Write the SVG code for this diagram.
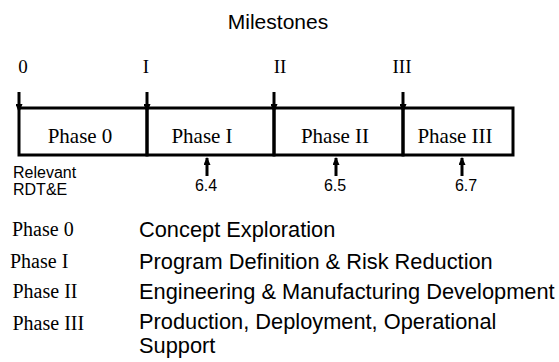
<svg xmlns="http://www.w3.org/2000/svg" width="559" height="362" viewBox="0 0 559 362">
<style>
.sans{font-family:"Liberation Sans",Arial,sans-serif;fill:#000}
.serif{font-family:"Liberation Serif","Times New Roman",serif;fill:#000}
.ln{stroke:#000;stroke-width:3;fill:none}
.ms{stroke:#000;stroke-width:3;fill:none}
</style>
<defs>
<marker id="dn" viewBox="0 0 9 7" refX="4" refY="3.5" markerWidth="9" markerHeight="7" markerUnits="userSpaceOnUse" orient="auto">
<path d="M0,0 L9,3.5 L0,7 z" fill="#000"/>
</marker>
<marker id="up" viewBox="0 0 8 7" refX="7" refY="3.5" markerWidth="8" markerHeight="7" markerUnits="userSpaceOnUse" orient="auto">
<path d="M0,0 L8,3.5 L0,7 z" fill="#000"/>
</marker>
</defs>
<rect width="559" height="362" fill="#fff"/>
<text class="sans" x="278" y="29" font-size="21" text-anchor="middle">Milestones</text>
<g id="milestone-labels" class="serif" font-size="19" text-anchor="middle">
<text x="23" y="73">0</text>
<text x="146" y="73">I</text>
<text x="280" y="73">II</text>
<text x="402" y="73">III</text>
</g>
<g id="phase-0"><rect x="19" y="108" width="128" height="47" class="ln"/><text class="serif" x="80" y="143" font-size="21" text-anchor="middle">Phase 0</text></g>
<g id="phase-1"><rect x="147" y="108" width="127" height="47" class="ln"/><text class="serif" x="202" y="143" font-size="21" text-anchor="middle">Phase I</text></g>
<g id="phase-2"><rect x="274" y="108" width="129" height="47" class="ln"/><text class="serif" x="335" y="143" font-size="21" text-anchor="middle">Phase II</text></g>
<g id="phase-3"><rect x="403" y="108" width="110" height="47" class="ln"/><text class="serif" x="455" y="143" font-size="21" text-anchor="middle">Phase III</text></g>
<g id="connectors">
<line class="ms" x1="19" y1="92" x2="19" y2="108" marker-end="url(#dn)"/>
<line class="ms" x1="147" y1="92" x2="147" y2="108" marker-end="url(#dn)"/>
<line class="ms" x1="274" y1="92" x2="274" y2="108" marker-end="url(#dn)"/>
<line class="ms" x1="403" y1="92" x2="403" y2="108" marker-end="url(#dn)"/>
<line class="ms" x1="207" y1="176" x2="207" y2="158" marker-end="url(#up)"/>
<line class="ms" x1="336" y1="176" x2="336" y2="158" marker-end="url(#up)"/>
<line class="ms" x1="462" y1="176" x2="462" y2="158" marker-end="url(#up)"/>
</g>
<g id="rdte" class="sans" font-size="16">
<text x="13" y="178">Relevant</text>
<text x="13" y="195">RDT&amp;E</text>
<text x="206" y="191" text-anchor="middle">6.4</text>
<text x="335" y="191" text-anchor="middle">6.5</text>
<text x="466" y="191" text-anchor="middle">6.7</text>
</g>
<g id="legend">
<text class="serif" x="12" y="236" font-size="20">Phase 0</text>
<text class="serif" x="10" y="268" font-size="20">Phase I</text>
<text class="serif" x="12.5" y="298" font-size="20">Phase II</text>
<text class="serif" x="12.5" y="330" font-size="20">Phase III</text>
<text class="sans" x="139" y="237" font-size="21.8">Concept Exploration</text>
<text class="sans" x="139" y="269" font-size="21.8">Program Definition &amp; Risk Reduction</text>
<text class="sans" x="139" y="299" font-size="21.8">Engineering &amp; Manufacturing Development</text>
<text class="sans" x="139" y="329" font-size="21.8">Production, Deployment, Operational</text>
<text class="sans" x="139" y="353" font-size="21.8">Support</text>
</g>
</svg>
